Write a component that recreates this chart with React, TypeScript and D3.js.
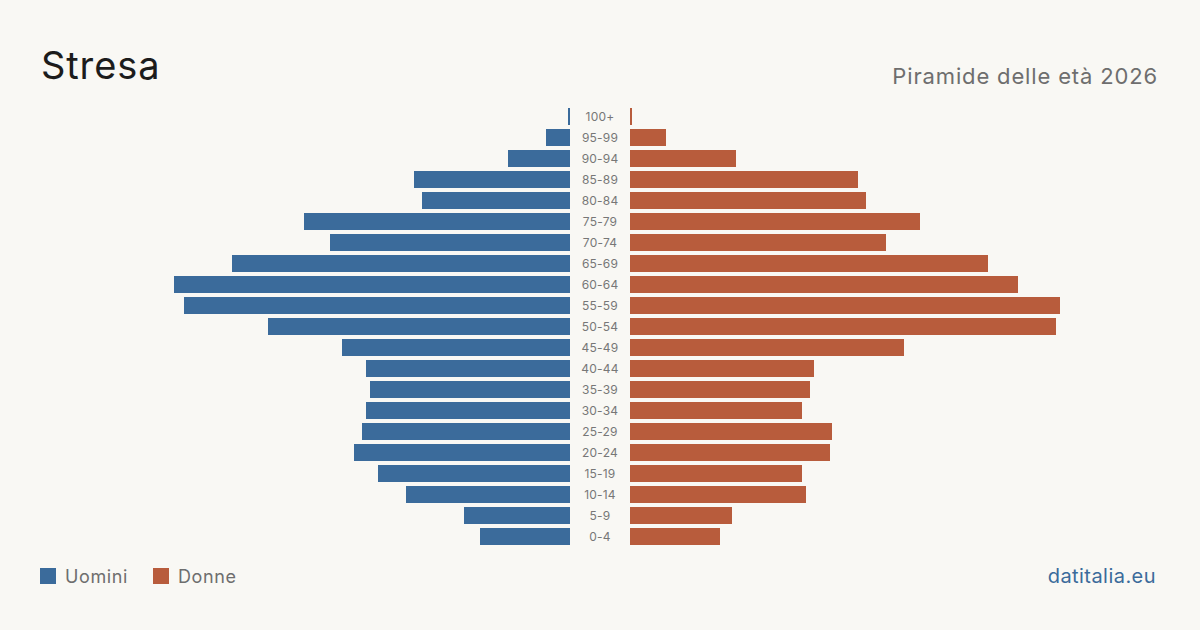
import React from "react";
import * as d3 from "d3";

const ageGroups = ["100+", "95-99", "90-94", "85-89", "80-84", "75-79", "70-74", "65-69", "60-64", "55-59", "50-54", "45-49", "40-44", "35-39", "30-34", "25-29", "20-24", "15-19", "10-14", "5-9", "0-4"];
const men = [1, 12, 31, 78, 74, 133, 120, 169, 198, 193, 151, 114, 102, 100, 102, 104, 108, 96, 82, 53, 45];
const women = [1, 18, 53, 114, 118, 145, 128, 179, 194, 215, 213, 137, 92, 90, 86, 101, 100, 86, 88, 51, 45];

const W = 1200;
const H = 630;
const BLUE = "#3b6b9b";
const ORANGE = "#b85c3c";
const FONT = "Inter, 'Noto Sans', sans-serif";

export default function App() {
  const maxV = d3.max([...men, ...women]) as number;
  const leftEdge = 570;
  const rightEdge = 630;
  const xL = d3.scaleLinear().domain([0, maxV]).range([leftEdge, leftEdge - 430]);
  const xR = d3.scaleLinear().domain([0, maxV]).range([rightEdge, rightEdge + 430]);
  const y = d3.scaleBand<string>().domain(ageGroups).range([106, 547]).paddingInner(4 / 21).paddingOuter(2 / 21);

  return (
    <svg width={W} height={H} style={{ display: "block", position: "absolute", left: 0, top: 0 }} viewBox={`0 0 ${W} ${H}`}>
      <rect x={0} y={0} width={W} height={H} fill="#f9f8f4" />
      <text x={41} y={79} fontFamily={FONT} fontSize={38} letterSpacing={0.9} fill="#1c1c1c">Stresa</text>
      <text x={1158} y={84} fontFamily={FONT} fontSize={22} letterSpacing={0.85} fill="#6e6e6e" textAnchor="end">Piramide delle età 2026</text>
      {ageGroups.map((g, i) => (
        <g key={g}>
          <rect x={xL(men[i])} y={y(g)} width={leftEdge - xL(men[i])} height={y.bandwidth()} fill={BLUE} />
          <rect x={rightEdge} y={y(g)} width={xR(women[i]) - rightEdge} height={y.bandwidth()} fill={ORANGE} />
          <text x={600} y={(y(g) as number) + y.bandwidth() / 2} dy="0.35em" textAnchor="middle" fontFamily={FONT} fontSize={12} letterSpacing={0.2} fill="#777">{g}</text>
        </g>
      ))}
      <rect x={40} y={568} width={16} height={16} fill={BLUE} />
      <text x={65} y={583} fontFamily={FONT} fontSize={18} letterSpacing={0.6} fill="#6e6e6e">Uomini</text>
      <rect x={153} y={568} width={16} height={16} fill={ORANGE} />
      <text x={178} y={583} fontFamily={FONT} fontSize={18} letterSpacing={0.6} fill="#6e6e6e">Donne</text>
      <text x={1156} y={583} fontFamily={FONT} fontSize={20} letterSpacing={0.45} fill={BLUE} textAnchor="end">datitalia.eu</text>
    </svg>
  );
}
